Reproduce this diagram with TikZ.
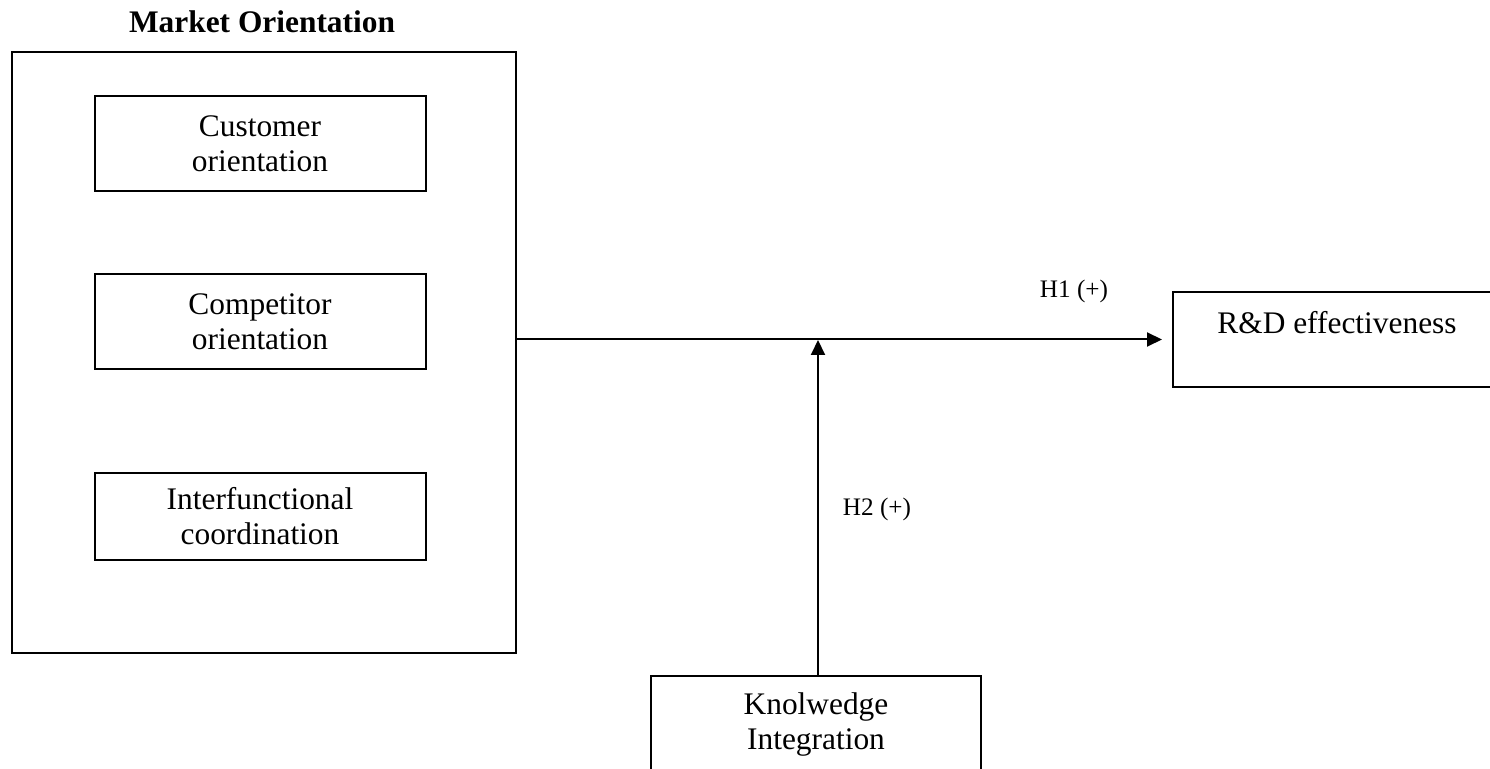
\documentclass[tikz,border=0pt]{standalone}
\usepackage{fontspec}
\setmainfont{Liberation Serif}
\usetikzlibrary{arrows.meta,positioning}
\tikzset{
>={Triangle[length=7.5pt,width=7pt]},
box/.style={draw,line width=1pt,align=center,inner sep=0pt,font=\fontsize{15.7}{17.5}\selectfont},
dim node/.style={box,minimum width=165.5pt,minimum height=47.5pt},
freccia/.style={->,line width=1pt},
ipotesi/.style={font=\fontsize{12.6}{14}\selectfont}}

\begin{document}
\begin{tikzpicture}[x=0.5pt,y=-0.5pt]
\useasboundingbox (0,0) rectangle (1490,769);

\node (mo) [box,minimum width=252pt,minimum height=300.5pt] at (264,352.5) {};
\node (title) [anchor=base,font=\bfseries\fontsize{15.7}{17.5}\selectfont] at (262,33) {Market Orientation};

\node (cust) [dim node] at (260,143.5) {Customer\\orientation};
\node (comp) [dim node] at (260,321.5) {Competitor\\orientation};
\node (inter) [dim node,minimum height=43.5pt] at (260,516.5) {Interfunctional\\coordination};

\node (rd) [box,minimum width=164pt,minimum height=47.5pt] at (1337,339.5) {R\&D effectiveness\\ \mbox{}};
\node (ki) [dim node,minimum width=165pt] at (816,724) {Knolwedge\\Integration};

\coordinate (meet) at (818,340);
\coordinate (base) at (818,677);

\draw[freccia,shorten >=5pt] (rd.west -| mo.east) -- (rd.west);
\draw[freccia] (base) -- (meet);

\node (h1) [ipotesi,anchor=base] at (1074,298) {H1 (+)};
\node (h2) [ipotesi,anchor=base] at (877,516) {H2 (+)};

\end{tikzpicture}
\end{document}
